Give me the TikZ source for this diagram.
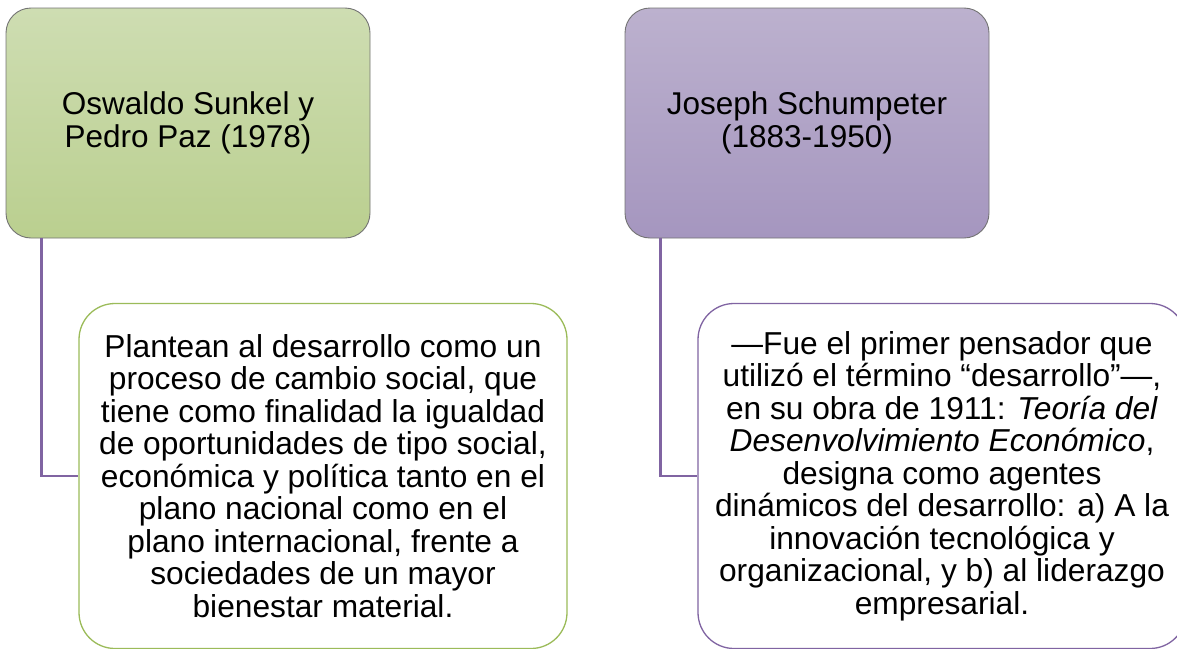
\documentclass[tikz,border=0pt]{standalone}
\usepackage{tikz}
\usepackage{fontspec}
\setmainfont{Liberation Sans}
\usetikzlibrary{positioning}

\definecolor{verdeA}{RGB}{206,221,178}
\definecolor{verdeB}{RGB}{186,207,143}
\definecolor{moradoA}{RGB}{188,177,206}
\definecolor{moradoB}{RGB}{165,150,191}
\definecolor{verdeL}{RGB}{155,187,89}
\definecolor{moradoL}{RGB}{128,100,162}
\definecolor{bordeG}{RGB}{115,115,115}

\tikzset{
  autor/.style={draw=bordeG, line width=0.9pt, rounded corners=25pt,
    minimum width=364pt, minimum height=230pt, align=center,
    font=\fontsize{31.5}{33}\selectfont},
  idea/.style={draw, line width=1.3pt, fill=white, rounded corners=36pt,
    minimum width=488pt, minimum height=345pt, align=center,
    font=\fontsize{31.7}{32.5}\selectfont},
  conn/.style={draw=moradoL, line width=2.6pt}
}

\begin{document}
\begin{tikzpicture}[x=1pt,y=-1pt]
\useasboundingbox (0,0) rectangle (1177,648);
\clip (0,0) rectangle (1177,648);

% autores
\node[autor, top color=verdeA, bottom color=verdeB] (sunkel) at (188,123)
  {Oswaldo Sunkel y\\Pedro Paz (1978)};
\node[autor, top color=moradoA, bottom color=moradoB] (schumpeter) at (807,123)
  {Joseph Schumpeter\\(1883-1950)};

% ideas
\node[idea, draw=verdeL] (plantean) at (323,476)
  {Plantean al desarrollo como un\\
   proceso de cambio social, que\\
   tiene como finalidad la igualdad\\
   de oportunidades de tipo social,\\
   económica y política tanto en el\\
   plano nacional como en el\\
   plano internacional, frente a\\
   sociedades de un mayor\\
   bienestar material.};
\node[idea, draw=moradoL] (fue) at (942,476)
  {—Fue el primer pensador que\\
   utilizó el término “desarrollo”—,\\
   en su obra de 1911: \textit{Teoría del}\\
   \textit{Desenvolvimiento Económico},\\
   designa como agentes\\
   dinámicos del desarrollo: a) A la\\
   innovación tecnológica y\\
   organizacional, y b) al liderazgo\\
   empresarial.};

% conectores
\draw[conn] ([xshift=36pt]sunkel.south west) |- (plantean.west);
\draw[conn] ([xshift=36pt]schumpeter.south west) |- (fue.west);
\end{tikzpicture}
\end{document}
